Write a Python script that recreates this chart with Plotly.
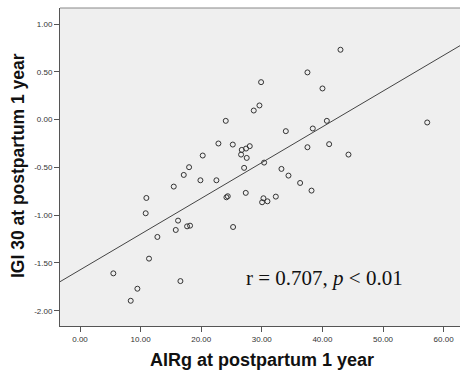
import plotly.graph_objects as go

airg = [42.98, 37.53, 29.88, 40.01, 29.61, 28.67, 24.05, 40.73, 57.29, 33.96,
        38.41, 22.84, 25.21, 41.11, 37.53, 28.01, 27.40, 26.69, 26.58, 27.51,
        20.25, 44.30, 30.38, 18.00, 27.08, 33.24, 17.12, 34.40, 19.87, 22.51,
        15.47, 36.32, 38.20, 27.35, 10.95, 24.38, 24.16, 32.31, 30.27, 30.05,
        30.93, 10.84, 16.18, 15.80, 17.67, 18.16, 25.26, 12.77, 11.39, 5.50,
        16.57, 9.47, 8.37]
igi30 = [0.731, 0.494, 0.392, 0.326, 0.148, 0.095, -0.013, -0.013, -0.030, -0.121,
         -0.093, -0.250, -0.261, -0.257, -0.289, -0.278, -0.303, -0.317, -0.366, -0.401,
         -0.376, -0.366, -0.450, -0.498, -0.505, -0.516, -0.579, -0.586, -0.635, -0.635,
         -0.701, -0.663, -0.743, -0.767, -0.820, -0.802, -0.813, -0.806, -0.823, -0.865,
         -0.855, -0.980, -1.057, -1.155, -1.117, -1.110, -1.124, -1.228, -1.455, -1.609,
         -1.690, -1.770, -1.896]

fit_intercept = -1.573
fit_slope = 0.03743

x_range = [-3.3, 62.7]
y_range = [-2.16, 1.168]

x_tickvals = [0, 10, 20, 30, 40, 50, 60]
x_ticktext = ["0.00", "10.00", "20.00", "30.00", "40.00", "50.00", "60.00"]
y_tickvals = [1.0, 0.5, 0.0, -0.5, -1.0, -1.5, -2.0]
y_ticktext = ["1.00", "0.50", "0.00", "-0.50", "-1.00", "-1.50", "-2.00"]

x_title = "AIRg at postpartum 1 year"
y_title = "IGI 30 at postpartum 1 year"
stat_text = "r = 0.707, <i>p</i> &lt; 0.01"

line_x = x_range
line_y = [fit_intercept + fit_slope * v for v in line_x]

fig = go.Figure()
fig.add_trace(go.Scatter(
    x=line_x, y=line_y, mode="lines",
    line=dict(color="#444444", width=1), hoverinfo="skip", showlegend=False))
fig.add_trace(go.Scatter(
    x=airg, y=igi30, mode="markers",
    marker=dict(symbol="circle-open", size=5, color="#333333", line=dict(width=1, color="#333333")),
    showlegend=False))

axis_font = dict(family="Liberation Sans, Arial", size=8, color="#333333")
fig.update_xaxes(
    range=x_range, tickvals=x_tickvals, ticktext=x_ticktext,
    showgrid=False, zeroline=False, showline=True, linecolor="#555555", linewidth=1,
    ticks="outside", ticklen=5, tickcolor="#555555", tickfont=axis_font)
fig.update_yaxes(
    range=y_range, tickvals=y_tickvals, ticktext=y_ticktext,
    showgrid=False, zeroline=False, showline=True, linecolor="#555555", linewidth=1,
    ticks="outside", ticklen=5, tickcolor="#555555", tickfont=axis_font)

title_font = dict(family="Liberation Sans, Arial", size=18, color="#111111")
fig.update_layout(
    width=460, height=376,
    margin=dict(l=60, r=0, t=8, b=50),
    paper_bgcolor="white", plot_bgcolor="#efefef",
    shapes=[dict(type="line", xref="paper", yref="paper", x0=0, x1=1, y0=1, y1=1,
                 line=dict(color="#888888", width=1))],
    annotations=[
        dict(text="<b>" + x_title + "</b>", xref="paper", yref="paper", x=0.505, y=0,
             yshift=-34, xanchor="center", yanchor="middle", showarrow=False, font=title_font),
        dict(text="<b>" + y_title + "</b>", xref="paper", yref="paper", x=0, y=0.503,
             xshift=-42, xanchor="center", yanchor="middle", textangle=-90,
             showarrow=False, font=dict(family="Liberation Sans, Arial", size=17.5, color="#111111")),
        dict(text=stat_text, xref="x", yref="y", x=40.3, y=-1.66,
             xanchor="center", yanchor="middle", showarrow=False,
             font=dict(family="Liberation Serif, Times New Roman", size=21, color="#111111")),
    ],
)

fig.write_html("out.html")
